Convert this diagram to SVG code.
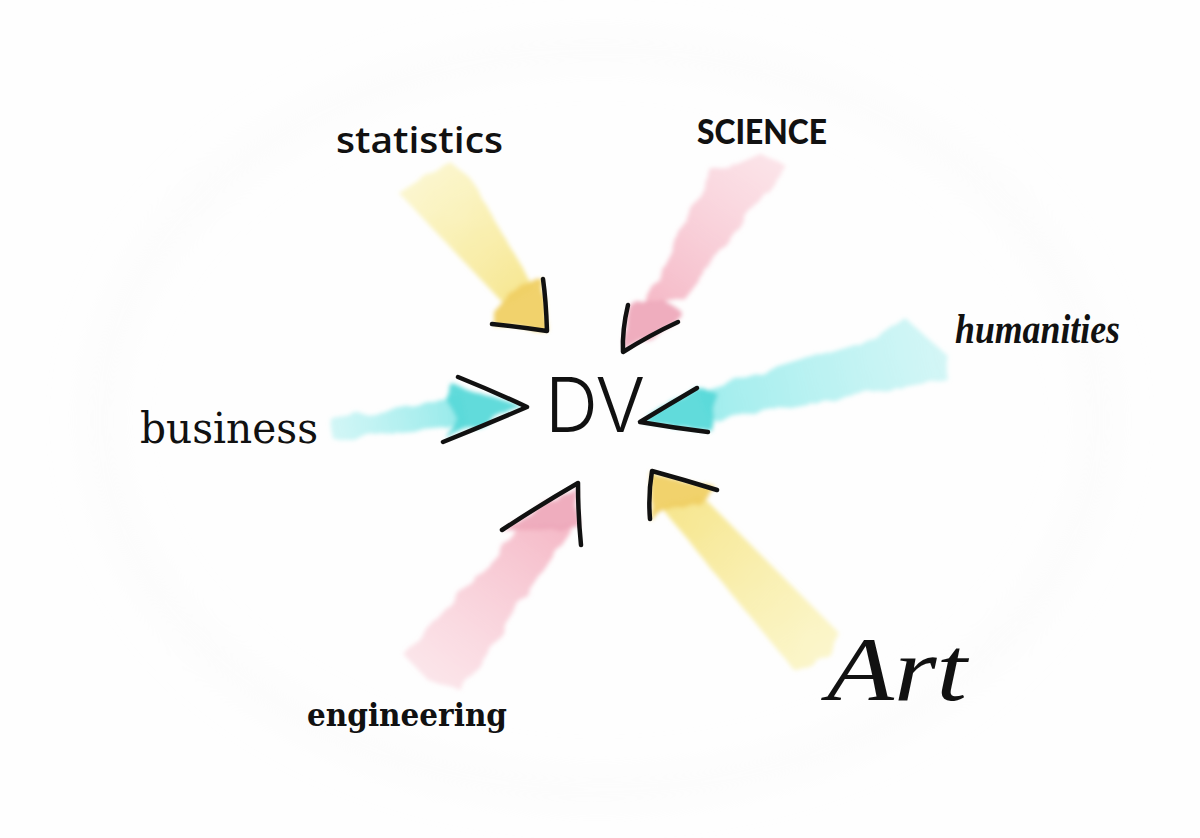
<svg xmlns="http://www.w3.org/2000/svg" width="1200" height="838" viewBox="0 0 1200 838">
<style>
.lbl{fill:#111}
.ink{fill:none;stroke:#111;stroke-width:4.5;stroke-linecap:round;stroke-linejoin:round}
.y2{fill:#f0d064;opacity:.95}
.p2{fill:#eea9ba;opacity:.95}
.c2{fill:#58d9d9;opacity:.95}
</style>
<defs>
<filter id="wc" x="-20%" y="-20%" width="140%" height="140%">
<feTurbulence type="fractalNoise" baseFrequency="0.04" numOctaves="2" seed="3" result="n"/>
<feDisplacementMap in="SourceGraphic" in2="n" scale="10" result="d"/>
<feGaussianBlur in="d" stdDeviation="2.2"/>
</filter>
<filter id="soft" x="-20%" y="-20%" width="140%" height="140%">
<feGaussianBlur stdDeviation="20"/>
</filter>
<linearGradient id="gStat" gradientUnits="userSpaceOnUse" x1="420" y1="175" x2="520" y2="300"><stop offset="0" stop-color="#f9f0a8" stop-opacity=".55"/><stop offset="1" stop-color="#f6e58a" stop-opacity=".95"/></linearGradient>
<linearGradient id="gSci" gradientUnits="userSpaceOnUse" x1="765" y1="160" x2="660" y2="302"><stop offset="0" stop-color="#f9ccd6" stop-opacity=".55"/><stop offset="1" stop-color="#f5b8c6" stop-opacity=".95"/></linearGradient>
<linearGradient id="gBus" gradientUnits="userSpaceOnUse" x1="330" y1="430" x2="468" y2="410"><stop offset="0" stop-color="#b5f1f1" stop-opacity=".6"/><stop offset="1" stop-color="#8ae8e8" stop-opacity=".95"/></linearGradient>
<linearGradient id="gHum" gradientUnits="userSpaceOnUse" x1="948" y1="350" x2="705" y2="408"><stop offset="0" stop-color="#b8f1f1" stop-opacity=".6"/><stop offset="1" stop-color="#9aecec" stop-opacity=".95"/></linearGradient>
<linearGradient id="gEng" gradientUnits="userSpaceOnUse" x1="430" y1="680" x2="550" y2="525"><stop offset="0" stop-color="#f9ccd6" stop-opacity=".5"/><stop offset="1" stop-color="#f5b8c6" stop-opacity=".95"/></linearGradient>
<linearGradient id="gArt" gradientUnits="userSpaceOnUse" x1="820" y1="655" x2="680" y2="505"><stop offset="0" stop-color="#f9f0a8" stop-opacity=".6"/><stop offset="1" stop-color="#f6e58a" stop-opacity=".95"/></linearGradient>
</defs>
<rect width="1200" height="838" fill="#fefefe"/>
<ellipse cx="600" cy="420" rx="500" ry="370" fill="none" stroke="#f8f8f8" stroke-width="12" filter="url(#soft)"/>

<g id="connectors">
  <g id="arrow-statistics" filter="url(#wc)">
    <polygon fill="url(#gStat)" points="398,192 448,160 470,178 534,288 506,306"/>
    <polygon class="y2" points="494,312 518,285 544,280 547,330 494,326"/>
  </g>
  <path class="ink" d="M543,279 Q546,300 547,331 Q520,327 492,324"/>

  <g id="arrow-science" filter="url(#wc)">
    <polygon fill="url(#gSci)" points="712,172 758,152 786,166 684,298 644,304"/>
    <polygon class="p2" points="628,306 660,298 682,312 676,323 625,350"/>
  </g>
  <path class="ink" d="M628,305 Q622,330 623,352 Q650,335 678,322"/>

  <g id="arrow-business" filter="url(#wc)">
    <polygon fill="url(#gBus)" points="330,418 400,408 462,396 468,426 400,432 334,440"/>
    <polygon class="c2" points="452,384 522,406 448,440 458,420 446,400"/>
  </g>
  <path class="ink" d="M458,377 Q495,392 527,407 Q485,425 443,442"/>

  <g id="arrow-humanities" filter="url(#wc)">
    <polygon fill="url(#gHum)" points="698,392 880,336 905,318 950,358 946,378 710,422"/>
    <polygon class="c2" points="694,386 716,392 712,432 642,422"/>
  </g>
  <path class="ink" d="M697,388 Q668,405 640,422 Q675,428 708,432"/>

  <g id="arrow-engineering" filter="url(#wc)">
    <polygon fill="url(#gEng)" points="404,655 522,526 574,522 462,692 428,680"/>
    <polygon class="p2" points="502,530 574,486 580,526 540,530"/>
  </g>
  <path class="ink" d="M502,530 Q540,505 578,483 Q578,515 581,545"/>

  <g id="arrow-art" filter="url(#wc)">
    <polygon fill="url(#gArt)" points="660,506 702,496 836,630 830,656 794,670"/>
    <polygon class="y2" points="650,472 716,488 700,506 662,510 652,522"/>
  </g>
  <path class="ink" d="M650,519 Q648,495 652,471 Q685,480 717,490"/>
</g>

<g id="node-dv">
  <text class="lbl" x="545" y="432" font-family="Inter, Liberation Sans, sans-serif" font-weight="300" font-size="76" textLength="100" lengthAdjust="spacingAndGlyphs">DV</text>
</g>
<g id="node-statistics">
  <text class="lbl" x="336" y="153" font-family="Open Sans, sans-serif" font-weight="600" font-size="36" textLength="167" lengthAdjust="spacingAndGlyphs">statistics</text>
</g>
<g id="node-science">
  <text class="lbl" x="697" y="144" font-family="Lato, sans-serif" font-weight="900" font-size="34" textLength="130" lengthAdjust="spacingAndGlyphs">SCIENCE</text>
</g>
<g id="node-business">
  <text class="lbl" x="140" y="443" font-family="DejaVu Serif, serif" font-size="42" textLength="178" lengthAdjust="spacingAndGlyphs">business</text>
</g>
<g id="node-humanities">
  <text class="lbl" x="955" y="343" font-family="Liberation Serif, serif" font-style="italic" font-weight="bold" font-size="42" textLength="165" lengthAdjust="spacingAndGlyphs">humanities</text>
</g>
<g id="node-engineering">
  <text class="lbl" x="307" y="726" font-family="DejaVu Serif, serif" font-weight="bold" font-size="31" textLength="200" lengthAdjust="spacingAndGlyphs">engineering</text>
</g>
<g id="node-art">
  <text class="lbl" x="827" y="700" font-family="Liberation Serif, serif" font-style="italic" font-size="92" textLength="140" lengthAdjust="spacingAndGlyphs">Art</text>
</g>
</svg>
